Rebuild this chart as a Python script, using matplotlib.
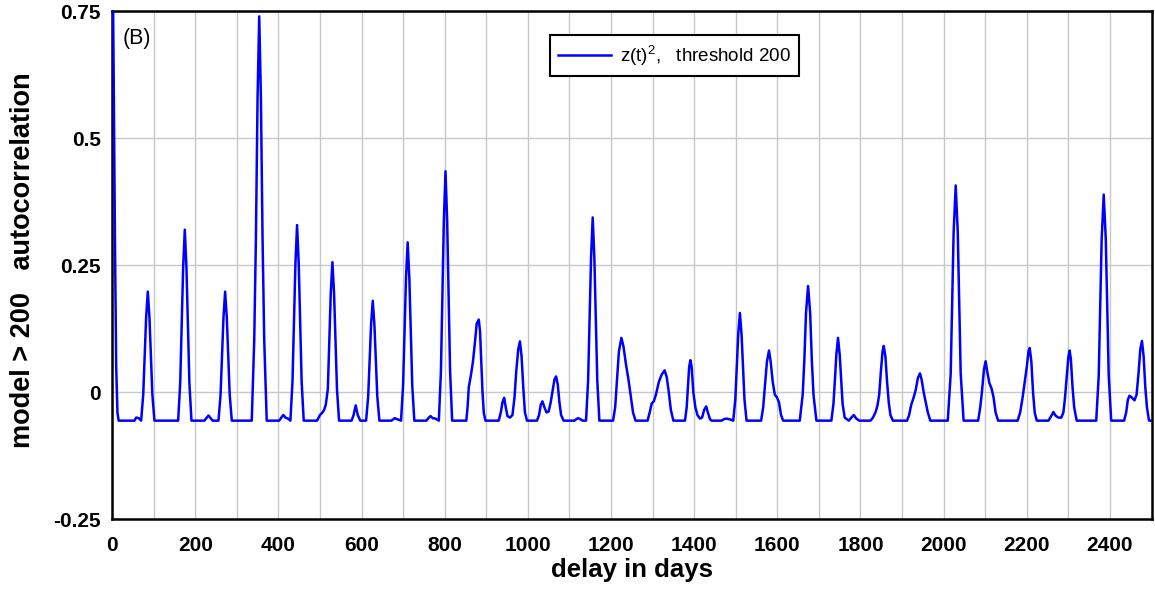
import matplotlib
matplotlib.use("Agg")
import matplotlib.pyplot as plt
from matplotlib.ticker import MultipleLocator, FixedLocator

plt.rcParams['font.family'] = ['Liberation Sans', 'DejaVu Sans']
plt.rcParams['mathtext.default'] = 'regular'

B = -0.056  # flat floor of the curve

# delay (days) and autocorrelation
lag_days = [
    0, 4, 7, 10, 13, 16,
    54, 58, 64, 70,
    75, 78, 82, 86, 90, 94, 97, 102,
    159, 164, 167, 171, 175, 179, 183, 186, 191,
    222, 228, 232, 236, 242,
    256, 261, 264, 268, 272, 276, 280, 283, 288,
    336, 342, 346, 350, 354, 358, 362, 366, 372,
    402, 408, 412, 417, 423,
    429, 434, 437, 441, 445, 449, 453, 456, 461,
    493, 500, 506, 510, 514, 519, 522, 526, 530, 534, 538, 541, 546,
    576, 581, 586, 591, 597,
    611, 616, 619, 623, 627, 631, 635, 638, 643,
    672, 677, 680, 685,
    695, 700, 703, 707, 711, 715, 719, 722, 727,
    756, 762, 766, 771, 778,
    786, 791, 794, 798, 802, 806, 810, 813, 818,
    852, 855, 858, 863, 868, 873, 877, 882, 885, 888, 891, 894, 898,
    930, 935, 939, 943, 947, 951, 957, 963, 968, 972, 977, 981, 985, 989, 993, 998,
    1022, 1027, 1031, 1035, 1040, 1045, 1050, 1055, 1060, 1064, 1068, 1072, 1076, 1080, 1086,
    1112, 1117, 1121, 1126, 1132,
    1140, 1145, 1148, 1152, 1156, 1160, 1164, 1167, 1172,
    1205, 1210, 1214, 1219, 1225, 1230, 1236, 1242, 1248, 1253, 1259,
    1288, 1293, 1298, 1303, 1308, 1315, 1322, 1329, 1334, 1339, 1344, 1350,
    1378, 1382, 1385, 1388, 1391, 1394, 1398, 1403, 1408, 1414, 1419, 1424, 1429, 1433, 1438, 1442,
    1466, 1472, 1478, 1484,
    1494, 1499, 1502, 1506, 1510, 1514, 1518, 1521, 1526,
    1561, 1566, 1570, 1575, 1580, 1584, 1589, 1594, 1599, 1604, 1609, 1614,
    1654, 1661, 1665, 1669, 1674, 1679, 1683, 1687, 1694,
    1730, 1735, 1738, 1742, 1746, 1750, 1754, 1757, 1762, 1772, 1778, 1784, 1790, 1797,
    1824, 1830, 1836, 1841, 1845, 1849, 1853, 1856, 1860, 1864, 1868, 1872, 1878,
    1912, 1917, 1922, 1928, 1933, 1938, 1943, 1947, 1952, 1957, 1962, 1968,
    2010, 2017, 2020, 2024, 2029, 2034, 2038, 2041, 2048,
    2083, 2088, 2092, 2097, 2101, 2105, 2110, 2115, 2120, 2125, 2131,
    2178, 2184, 2190, 2195, 2200, 2204, 2207, 2211, 2215, 2219, 2224,
    2252, 2258, 2264, 2269, 2276, 2283, 2288, 2292, 2296, 2300, 2303, 2306, 2310, 2314, 2320,
    2367, 2373, 2376, 2380, 2385, 2390, 2394, 2397, 2403,
    2434, 2439, 2443, 2447, 2452, 2459, 2464, 2469, 2473, 2477, 2481, 2485, 2489, 2494, 2500,
]
acf = [
    1.0, 0.62, 0.30, 0.05, -0.04, B,
    B, -0.05, -0.051, B,
    -0.005, 0.058, 0.147, 0.198, 0.147, 0.058, -0.005, B,
    B, 0.019, 0.113, 0.245, 0.320, 0.245, 0.113, 0.019, B,
    B, -0.05, -0.046, -0.05, B,
    B, -0.005, 0.058, 0.147, 0.198, 0.147, 0.058, -0.005, B,
    B, 0.103, 0.302, 0.581, 0.740, 0.581, 0.302, 0.103, B,
    B, -0.049, -0.045, -0.05, -0.052,
    B, 0.021, 0.117, 0.252, 0.329, 0.252, 0.117, 0.021, B,
    B, -0.045, -0.04, -0.035, -0.025, 0.006, 0.084, 0.194, 0.256, 0.194, 0.084, 0.006, B,
    B, -0.045, -0.026, -0.045, B,
    B, -0.009, 0.050, 0.133, 0.180, 0.133, 0.050, -0.009, B,
    B, -0.053, -0.051, -0.053,
    B, 0.014, 0.102, 0.225, 0.295, 0.225, 0.102, 0.014, B,
    B, -0.05, -0.047, -0.051, -0.052,
    B, 0.042, 0.165, 0.337, 0.435, 0.337, 0.165, 0.042, B,
    B, -0.03, 0.01, 0.033, 0.06, 0.10, 0.135, 0.143, 0.12, 0.06, 0.0, -0.04, B,
    B, -0.04, -0.02, -0.011, -0.03, -0.047, -0.05, -0.045, -0.01, 0.04, 0.085, 0.100, 0.07, 0.01, -0.04, B,
    B, -0.045, -0.025, -0.018, -0.03, -0.04, -0.038, -0.02, 0.005, 0.025, 0.031, 0.015, -0.02, -0.045, B,
    B, -0.053, -0.051, -0.053, B,
    B, 0.024, 0.124, 0.264, 0.344, 0.264, 0.124, 0.024, B,
    B, -0.03, 0.02, 0.08, 0.107, 0.09, 0.055, 0.025, -0.01, -0.04, B,
    B, -0.04, -0.022, -0.018, -0.005, 0.02, 0.035, 0.043, 0.03, 0.0, -0.035, B,
    B, -0.03, 0.01, 0.05, 0.063, 0.05, 0.0, -0.03, -0.045, -0.052, -0.05, -0.035, -0.028, -0.04, -0.053, B,
    B, -0.053, -0.052, -0.053,
    B, -0.014, 0.039, 0.114, 0.156, 0.114, 0.039, -0.014, B,
    B, -0.03, 0.01, 0.06, 0.082, 0.06, 0.02, -0.005, -0.01, -0.02, -0.045, B,
    B, -0.005, 0.063, 0.156, 0.209, 0.156, 0.063, -0.005, B,
    B, -0.023, 0.017, 0.074, 0.107, 0.074, 0.017, -0.023, -0.05, B, -0.05, -0.045, -0.052, B,
    B, -0.05, -0.04, -0.026, -0.005, 0.04, 0.08, 0.091, 0.07, 0.02, -0.02, -0.045, B,
    B, -0.045, -0.025, -0.01, 0.005, 0.028, 0.037, 0.025, 0.0, -0.02, -0.04, B,
    B, 0.037, 0.152, 0.314, 0.407, 0.314, 0.152, 0.037, B,
    B, -0.03, 0.0, 0.045, 0.061, 0.04, 0.018, 0.008, -0.01, -0.04, B,
    B, -0.04, -0.01, 0.02, 0.05, 0.08, 0.087, 0.06, 0.0, -0.04, B,
    B, -0.048, -0.039, -0.046, -0.05, -0.05, -0.04, -0.01, 0.03, 0.07, 0.082, 0.065, 0.01, -0.03, B,
    B, 0.033, 0.144, 0.300, 0.389, 0.300, 0.144, 0.033, B,
    B, -0.04, -0.015, -0.007, -0.01, -0.016, -0.005, 0.04, 0.085, 0.101, 0.07, 0.01, -0.03, B, B,
]

y_ticks = [-0.25, 0, 0.25, 0.5, 0.75]
y_labels = ['-0.25', '0', '0.25', '0.5', '0.75']

fig = plt.figure(figsize=(11.55, 5.92), dpi=100)
ax = fig.add_axes([0.097, 0.123, 0.9, 0.858])

ax.plot(lag_days, acf, color='#0000ff', lw=1.8, label='z(t)$^2$,   threshold 200', zorder=3,
        solid_joinstyle='round')

ax.set_xlim(0, 2500)
ax.set_ylim(-0.25, 0.75)
ax.xaxis.set_major_locator(MultipleLocator(200))
ax.xaxis.set_minor_locator(MultipleLocator(100))
ax.yaxis.set_major_locator(FixedLocator(y_ticks))
ax.set_yticklabels(y_labels)

ax.set_axisbelow(True)
ax.grid(True, which='both', color='#c8c8c8', lw=1.0)
ax.tick_params(which='both', length=0)
ax.tick_params(axis='x', pad=12, labelsize=15)
ax.tick_params(axis='y', pad=8, labelsize=15)
for lab in ax.get_xticklabels() + ax.get_yticklabels():
    lab.set_fontweight('bold')
for sp in ax.spines.values():
    sp.set_linewidth(1.8)

ax.set_xlabel('delay in days', fontsize=18.5, fontweight='bold', labelpad=2)
ax.set_ylabel('model > 200   autocorrelation', fontsize=19.5, fontweight='bold')
ax.yaxis.set_label_coords(-0.073, 0.51)

ax.text(0.0106, 0.968, '(B)', transform=ax.transAxes, fontsize=15.5, va='top', ha='left')

leg = ax.legend(loc='upper left', bbox_to_anchor=(0.421, 0.953), borderaxespad=0,
                fontsize=13.5, handlelength=2.8, handletextpad=0.5, borderpad=0.45,
                fancybox=False, framealpha=1, edgecolor='black')
leg.get_frame().set_linewidth(1.5)

fig.savefig('out.png', dpi=100)
